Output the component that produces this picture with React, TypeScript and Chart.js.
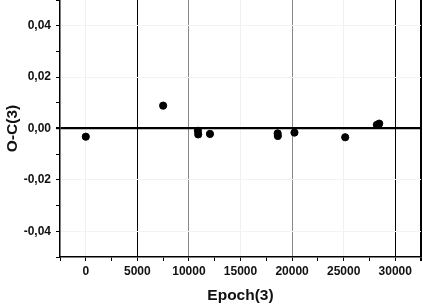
import React, { useEffect, useRef } from "react";
import { Chart, registerables } from "chart.js";

Chart.register(...registerables);

const epochs = [0, 7500, 10870, 10900, 12040, 18600, 18620, 20230, 25150, 28220, 28450];
const ocValues = [-0.0032, 0.0089, -0.0009, -0.0023, -0.0021, -0.0019, -0.0029, -0.0016, -0.0034, 0.0014, 0.0019];
const xLabelValues = [0, 5000, 10000, 15000, 20000, 25000, 30000];
const yLabelValues = [-0.04, -0.02, 0, 0.02, 0.04];
const xTitle = "Epoch(3)";
const yTitle = "O-C(3)";

const FONT = "'Liberation Sans', Arial, sans-serif";

export default function App() {
  const ref = useRef<HTMLCanvasElement>(null);
  useEffect(() => {
    const ctx = ref.current!;
    const chart = new Chart(ctx, {
      type: "scatter",
      data: {
        datasets: [
          {
            data: epochs.map((x, i) => ({ x, y: ocValues[i] })),
            backgroundColor: "#000",
            borderColor: "#000",
            pointRadius: 3.6,
            pointHoverRadius: 3.6,
            showLine: false,
          },
        ],
      },
      options: {
        animation: false,
        responsive: false,
        events: [],
        layout: { autoPadding: false, padding: { left: 0, right: 2, top: 0, bottom: 0 } },
        plugins: { legend: { display: false }, tooltip: { enabled: false } },
        scales: {
          x: {
            type: "linear",
            min: -2500,
            max: 32500,
            afterFit: (s: any) => {
              s.height = 48;
              s.paddingLeft = 0;
              s.paddingRight = 0;
            },
            ticks: {
              stepSize: 2500,
              autoSkip: false,
              maxRotation: 0,
              padding: 3,
              color: "#111",
              font: { family: FONT, size: 12, weight: "bold" },
              callback: (v: any) => {
                const n = Math.round(Number(v));
                return xLabelValues.includes(n) ? String(n) : "";
              },
            },
            grid: {
              tickLength: 4,
              tickColor: "#000",
              color: (c: any) => {
                const v = Math.round(c.tick?.value ?? 0);
                if (v === 5000 || v === 30000 || v === 32500) return "#000";
                if (v === 10000 || v === 20000) return "#888";
                if (v === 15000 || v === 25000 || v === 0) return "#f0f0f0";
                return "rgba(0,0,0,0)";
              },
              lineWidth: (c: any) => {
                const v = Math.round(c.tick?.value ?? 0);
                return v === 32500 ? 2 : 1;
              },
            },
            border: { color: "#000", width: 1.5 },
            title: {
              display: true,
              text: xTitle,
              color: "#111",
              font: { family: FONT, size: 15.5, weight: "bold" },
              padding: { top: 5, bottom: 0 },
            },
          },
          y: {
            type: "linear",
            min: -0.05,
            max: 0.05,
            afterFit: (s: any) => {
              s.width = 60;
              s.paddingTop = 0;
              s.paddingBottom = 0;
            },
            ticks: {
              stepSize: 0.01,
              autoSkip: false,
              padding: 5,
              color: "#111",
              font: { family: FONT, size: 12, weight: "bold" },
              callback: (v: any) => {
                const n = Math.round(Number(v) * 100) / 100;
                if (!yLabelValues.some((l) => Math.abs(l - n) < 1e-9)) return "";
                const s = Math.abs(n) < 1e-9 ? "0.00" : n.toFixed(2);
                return s.replace(".", ",");
              },
            },
            grid: {
              tickLength: 4,
              tickColor: "#000",
              color: (c: any) => {
                const v = Math.round((c.tick?.value ?? 0) * 100);
                if (v === 0) return "#000";
                if (v % 2 === 0 && Math.abs(v) < 5) return "#f3f3f3";
                return "rgba(0,0,0,0)";
              },
              lineWidth: (c: any) => {
                const v = Math.round((c.tick?.value ?? 0) * 100);
                return v === 0 ? 2.2 : 1;
              },
            },
            border: { color: "#000", width: 1.5 },
            title: {
              display: true,
              text: yTitle,
              color: "#111",
              font: { family: FONT, size: 15.5, weight: "bold" },
              padding: { top: 3, bottom: 0 },
            },
          },
        },
      },
    } as any);
    return () => chart.destroy();
  }, []);
  return (
    <div style={{ position: "absolute", left: 0, top: 0, width: 423, height: 305, background: "#fff" }}>
      <canvas ref={ref} width={423} height={305} style={{ display: "block" }} />
    </div>
  );
}
